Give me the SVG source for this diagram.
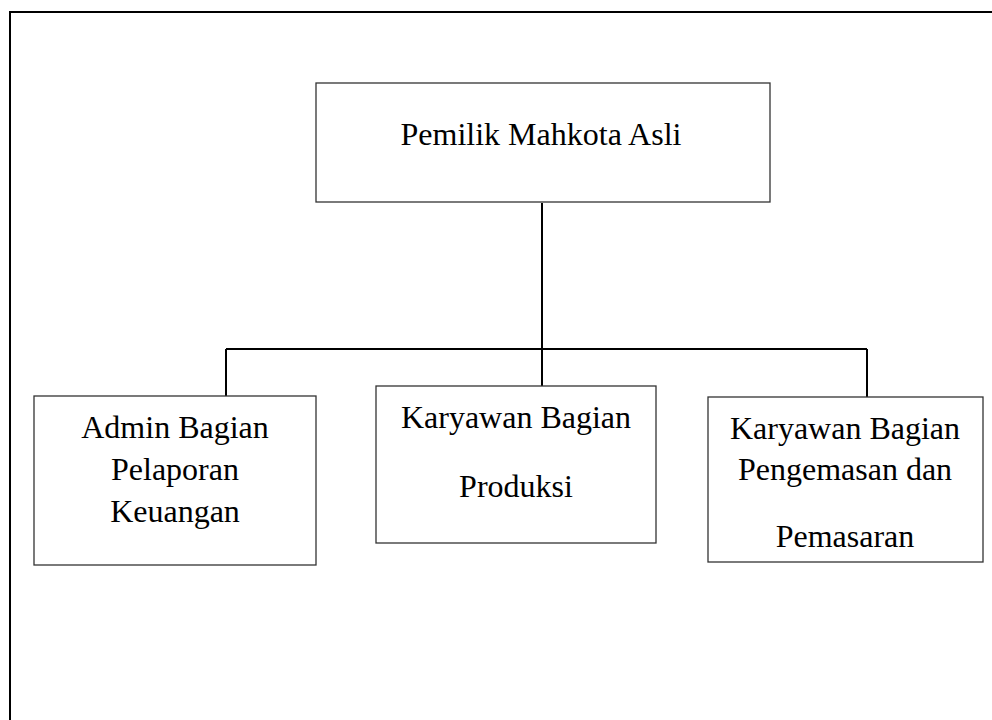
<svg xmlns="http://www.w3.org/2000/svg" width="992" height="720" viewBox="0 0 992 720">
<style>
.box{fill:#fff;stroke:#333;stroke-width:1.3}
.lbl{font-family:"Liberation Serif","Times New Roman",serif;font-size:32px;fill:#000;text-anchor:middle}
.con{fill:none;stroke:#000;stroke-width:2}
.frame{fill:none;stroke:#000;stroke-width:2}
</style>
<rect width="992" height="720" fill="#fff"/>
<path class="frame" d="M10,720 V12 H992"/>
<g id="connectors">
<path class="con" d="M542,203 V349"/>
<path class="con" d="M226,349 H867"/>
<path class="con" d="M226,349 V396"/>
<path class="con" d="M542,349 V386"/>
<path class="con" d="M867,349 V397"/>
</g>
<g id="pemilik">
<rect class="box" x="316" y="83" width="454" height="119"/>
<text class="lbl" x="541" y="145">Pemilik Mahkota Asli</text>
</g>
<g id="admin">
<rect class="box" x="34" y="396" width="282" height="169"/>
<text class="lbl" x="175" y="438">Admin Bagian</text>
<text class="lbl" x="175" y="480">Pelaporan</text>
<text class="lbl" x="175" y="522">Keuangan</text>
</g>
<g id="produksi">
<rect class="box" x="376" y="386" width="280" height="157"/>
<text class="lbl" x="516" y="428">Karyawan Bagian</text>
<text class="lbl" x="516" y="497">Produksi</text>
</g>
<g id="pemasaran">
<rect class="box" x="708" y="397" width="275" height="165"/>
<text class="lbl" x="845" y="439">Karyawan Bagian</text>
<text class="lbl" x="845" y="480">Pengemasan dan</text>
<text class="lbl" x="845" y="547">Pemasaran</text>
</g>
</svg>
